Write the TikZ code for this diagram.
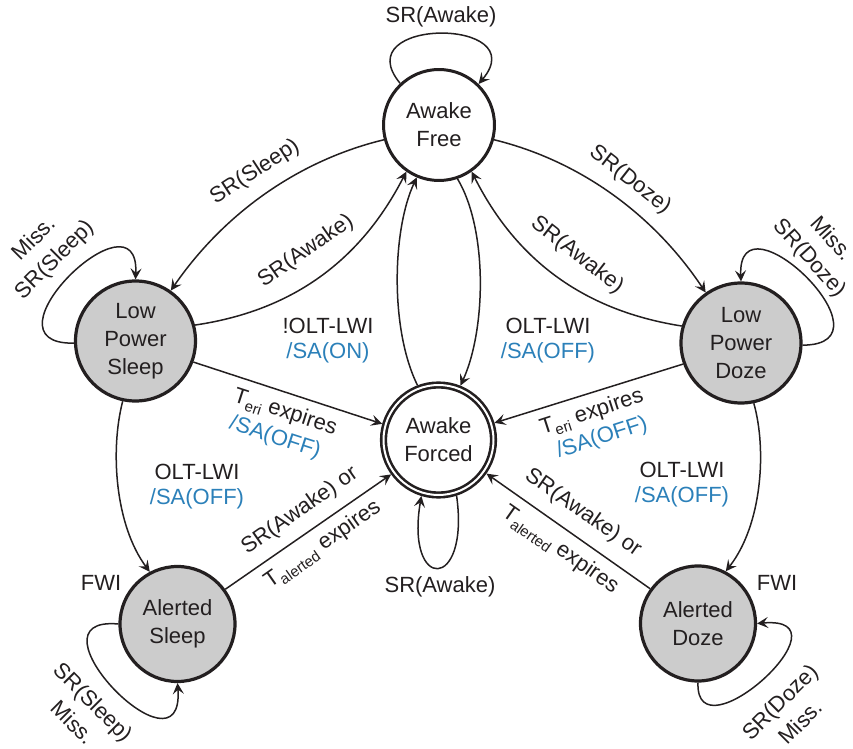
\documentclass[tikz,border=0pt]{standalone}
\usepackage{fontspec}
\setmainfont{Liberation Sans}
\usetikzlibrary{arrows.meta}
\definecolor{ink}{HTML}{231F20}
\definecolor{sablue}{HTML}{2B80B9}
\definecolor{statefill}{HTML}{CCCCCC}
% lowered, smaller index letters after T
\newcommand{\lowsub}[1]{\raisebox{-0.45ex}{\fontsize{7.5}{8}\selectfont #1}}
\begin{document}
\begin{tikzpicture}[x=0.5pt,y=-0.5pt,line join=round,
  base/.style={font=\fontsize{11}{12.5}\selectfont,text=ink},
  state/.style={circle,draw=ink,line width=1.5pt,inner sep=0pt,align=center,
    font=\fontsize{11}{14}\selectfont,text=ink,fill=white},
  lowstate/.style={state,fill=statefill,line width=1.6pt},
  forced/.style={state,double=white,double distance=1pt,line width=1.3pt,outer sep=1.8pt},
  trans/.style={draw=ink,line width=0.75pt,-{Stealth[length=5.5pt,width=5.5pt,inset=2.2pt]}},
  lbl/.style={base,inner sep=0pt,align=center},
  looplbl/.style={lbl,font=\fontsize{11}{14.5}\selectfont},
  act/.style={text=sablue}]
\useasboundingbox (0,0) rectangle (853,749);

% states
\node[state,minimum size=55.5pt]    (free)   at (439,125)   {Awake\\Free};
\node[lowstate,minimum size=60pt]   (lpsleep) at (135.5,341) {Low\\Power\\Sleep};
\node[lowstate,minimum size=60pt]   (lpdoze)  at (741,343)   {Low\\Power\\Doze};
\node[forced,minimum size=55pt]     (forced) at (438.5,440) {Awake\\Forced};
\node[lowstate,minimum size=57.5pt] (asleep) at (177.5,624) {Alerted\\Sleep};
\node[lowstate,minimum size=57.5pt] (adoze)  at (698,623.5) {Alerted\\Doze};

% self loops
\draw[trans] (free.133) .. controls (345,17) and (535,17) .. (free.46);
\draw[trans] (lpsleep.182) .. controls (-25,345) and (140,185) .. (lpsleep.90);
\draw[trans] (lpdoze.358) .. controls (900,345) and (737,188) .. (lpdoze.90);
\draw[trans] (forced.288) .. controls (470,592) and (405,592) .. (forced.253);
\draw[trans] (asleep.180) .. controls (20,615) and (185,785) .. (asleep.270);
\draw[trans] (adoze.270) .. controls (695,760) and (855,615) .. (adoze.0);

% between Awake Free and the low power states
\draw[trans] (free.195) .. controls (300,160) and (225,212) .. (lpsleep.55);
\draw[trans] (lpsleep.15) .. controls (291,311) and (360,262) .. (free.235);
\draw[trans] (free.345) .. controls (577,160) and (652,212) .. (lpdoze.125);
\draw[trans] (lpdoze.164) .. controls (586,311) and (517,262) .. (free.305);

% between Awake Free and Awake Forced
\draw[trans] (free.289) .. controls (488,230) and (486,330) .. (forced.68);
\draw[trans] (forced.111) .. controls (390,330) and (392,230) .. (free.247);

% into Awake Forced
\draw[trans] (lpsleep.340) -- (forced.164);
\draw[trans] (lpdoze.200) -- (forced.17);
\draw[trans] (asleep.36) -- (forced.216);
\draw[trans] (adoze.144) -- (forced.325);

% low power to alerted
\draw[trans] (lpsleep.258) .. controls (110,450) and (115,525) .. (asleep.118);
\draw[trans] (lpdoze.282) .. controls (767,450) and (762,525) .. (adoze.62);

% labels
\node[lbl] (lfreeloop) at (441,17) {SR(Awake)};
\node[lbl,rotate=33] (lsleep) at (255,172) {SR(Sleep)};
\node[lbl,rotate=35] (lawakel) at (306,251) {SR(Awake)};
\node[lbl,rotate=-38] (ldoze) at (630,180) {SR(Doze)};
\node[lbl,rotate=-38] (lawaker) at (577,255) {SR(Awake)};
\node[lbl] (lon) at (328,341) {!OLT-LWI\\\textcolor{sablue}{/SA(ON)}};
\node[lbl] (loff) at (548,341) {OLT-LWI\\\textcolor{sablue}{/SA(OFF)}};
\node[lbl,rotate=-18] (lteril) at (285,413) {T\lowsub{eri} expires};
\node[lbl,rotate=-18,act] (lterila) at (275,438) {/SA(OFF)};
\node[lbl,rotate=18] (lterir) at (592,413) {T\lowsub{eri} expires};
\node[lbl,rotate=18,act] (lterira) at (602,438) {/SA(OFF)};
\node[lbl] (lolts) at (197,487) {OLT-LWI\\\textcolor{sablue}{/SA(OFF)}};
\node[lbl] (loltd) at (682,485) {OLT-LWI\\\textcolor{sablue}{/SA(OFF)}};
\node[lbl,rotate=35] (lorl) at (300,511) {SR(Awake) or};
\node[lbl,rotate=35] (lalertl) at (323,545) {T\lowsub{alerted} expires};
\node[lbl,rotate=-35] (lorr) at (583,513) {SR(Awake) or};
\node[lbl,rotate=-35] (lalertr) at (560,550) {T\lowsub{alerted} expires};
\node[lbl] (lforcedloop) at (440,587) {SR(Awake)};
\node[lbl] (lfwis) at (101,583) {FWI};
\node[lbl] (lfwid) at (777,583) {FWI};
\node[looplbl,rotate=45] (llps) at (45,250) {Miss.\\SR(Sleep)};
\node[looplbl,rotate=-48] (llpd) at (820,249) {Miss.\\SR(Doze)};
\node[looplbl,rotate=-45] (las) at (83,712) {SR(Sleep)\\Miss.};
\node[looplbl,rotate=45] (lad) at (790,712) {SR(Doze)\\Miss.};
\end{tikzpicture}
\end{document}
